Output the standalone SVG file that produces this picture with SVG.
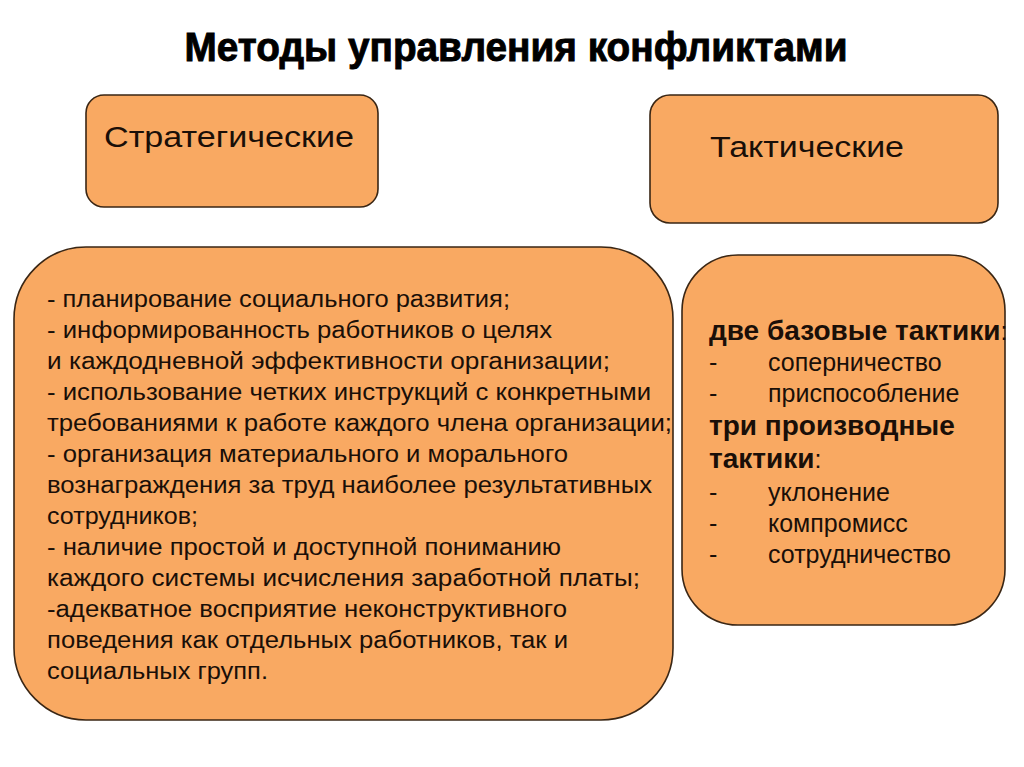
<svg xmlns="http://www.w3.org/2000/svg" width="1024" height="767" viewBox="0 0 1024 767">
<style>
.box{fill:#F9A962;stroke:#3a2614;stroke-width:1.6}
.t{font-family:"Liberation Sans",Arial,sans-serif;fill:#1a0f08}
.body{font-size:23px}
.head{font-size:29px}
.rb{font-size:25px}
.bold{font-weight:bold;font-size:28px}
</style>
<rect width="1024" height="767" fill="#ffffff"/>
<text class="t" x="516" y="61" text-anchor="middle" font-size="40" font-weight="bold" textLength="663" lengthAdjust="spacingAndGlyphs" stroke="#000" stroke-width="0.9" style="fill:#000">Методы управления конфликтами</text>
<g id="strategic">
<rect class="box" x="86" y="95" width="292" height="112" rx="18"/>
<text class="t head" x="104" y="147" textLength="250" lengthAdjust="spacingAndGlyphs">Стратегические</text>
</g>
<g id="tactical">
<rect class="box" x="650" y="95" width="348" height="128" rx="20"/>
<text class="t head" x="710" y="157" textLength="194" lengthAdjust="spacingAndGlyphs">Тактические</text>
</g>
<g id="strategic-list">
<rect class="box" x="14" y="247" width="659" height="473" rx="72"/>
<g class="t body">
<text x="47" y="307" textLength="463" lengthAdjust="spacingAndGlyphs">- планирование социального развития;</text>
<text x="47" y="338" textLength="505" lengthAdjust="spacingAndGlyphs">- информированность работников о целях</text>
<text x="47" y="369" textLength="563" lengthAdjust="spacingAndGlyphs">и каждодневной эффективности организации;</text>
<text x="47" y="400" textLength="604" lengthAdjust="spacingAndGlyphs">- использование четких инструкций с конкретными</text>
<text x="47" y="431" textLength="625" lengthAdjust="spacingAndGlyphs">требованиями к работе каждого члена организации;</text>
<text x="47" y="462" textLength="521" lengthAdjust="spacingAndGlyphs">- организация материального и морального</text>
<text x="47" y="493" textLength="605" lengthAdjust="spacingAndGlyphs">вознаграждения за труд наиболее результативных</text>
<text x="47" y="524" textLength="151" lengthAdjust="spacingAndGlyphs">сотрудников;</text>
<text x="47" y="555" textLength="514" lengthAdjust="spacingAndGlyphs">- наличие простой и доступной пониманию</text>
<text x="47" y="586" textLength="593" lengthAdjust="spacingAndGlyphs">каждого системы исчисления заработной платы;</text>
<text x="47" y="617" textLength="520" lengthAdjust="spacingAndGlyphs">-адекватное восприятие неконструктивного</text>
<text x="47" y="648" textLength="521" lengthAdjust="spacingAndGlyphs">поведения как отдельных работников, так и</text>
<text x="47" y="679" textLength="221" lengthAdjust="spacingAndGlyphs">социальных групп.</text>
</g>
</g>
<g id="tactical-list">
<rect class="box" x="682" y="255" width="323" height="370" rx="56"/>
<g class="t">
<text x="709" y="340"><tspan class="bold">две базовые тактики</tspan><tspan class="rb">:</tspan></text>
<text class="rb" x="709" y="371">-</text><text class="rb" x="768" y="371">соперничество</text>
<text class="rb" x="709" y="402">-</text><text class="rb" x="768" y="402">приспособление</text>
<text class="bold" x="709" y="435">три производные</text>
<text x="709" y="468"><tspan class="bold">тактики</tspan><tspan class="rb">:</tspan></text>
<text class="rb" x="709" y="501">-</text><text class="rb" x="768" y="501">уклонение</text>
<text class="rb" x="709" y="532">-</text><text class="rb" x="768" y="532">компромисс</text>
<text class="rb" x="709" y="563">-</text><text class="rb" x="768" y="563">сотрудничество</text>
</g>
</g>
</svg>
